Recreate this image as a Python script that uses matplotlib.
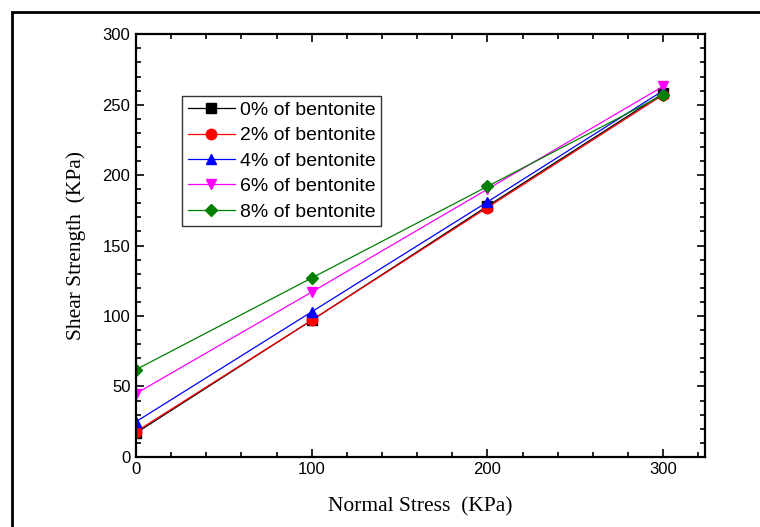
import matplotlib
matplotlib.use('Agg')
import matplotlib.pyplot as plt
from matplotlib.patches import Rectangle
from matplotlib.ticker import MultipleLocator

# Normal stress steps (KPa) and shear strength for each bentonite content
normal_stress = [0, 100, 200, 300]
shear_0 = [17, 97, 178, 258]
shear_2 = [18, 97, 177, 257]
shear_4 = [25, 103, 181, 260]
shear_6 = [45, 117, 190, 263]
shear_8 = [62, 127, 192, 257]

labels = ['0% of bentonite', '2% of bentonite', '4% of bentonite',
          '6% of bentonite', '8% of bentonite']
colors = ['black', 'red', 'blue', '#ff00ff', '#008000']
markers = ['s', 'o', '^', 'v', 'D']

fig = plt.figure(figsize=(7.6, 5.27), dpi=100)
ax = fig.add_axes([0.179, 0.133, 0.749, 0.802])

series = [shear_0, shear_2, shear_4, shear_6, shear_8]
for ys, lab, c, m in zip(series, labels, colors, markers):
    ms = 6.5 if m == 'D' else 7.5
    ax.plot(normal_stress, ys, color=c, marker=m, markersize=ms, lw=0.9,
            label=lab)

ax.set_xlim(0, 324)
ax.set_ylim(0, 300)
ax.xaxis.set_major_locator(MultipleLocator(100))
ax.xaxis.set_minor_locator(MultipleLocator(20))
ax.yaxis.set_major_locator(MultipleLocator(50))
ax.yaxis.set_minor_locator(MultipleLocator(10))
ax.tick_params(which='both', direction='in', top=True, right=True,
               width=1.2, labelsize=12)
ax.tick_params(which='major', length=6, pad=4)
ax.tick_params(which='minor', length=3.5)
for lab in ax.get_xticklabels() + ax.get_yticklabels():
    lab.set_family('Liberation Sans')
for sp in ax.spines.values():
    sp.set_linewidth(1.6)

ax.set_xlabel('Normal Stress  (KPa)', family='Liberation Serif', fontsize=15.5,
              labelpad=14)
ax.set_ylabel('Shear Strength  (KPa)', family='Liberation Serif', fontsize=15.5,
              labelpad=12)

leg = ax.legend(loc='upper left', bbox_to_anchor=(0.081, 0.855),
                prop={'family': 'Liberation Sans', 'size': 14},
                frameon=True, fancybox=False, handlelength=2.4,
                handletextpad=0.25, labelspacing=0.4, borderpad=0.3,
                borderaxespad=0)
leg.get_frame().set_edgecolor('black')
leg.get_frame().set_linewidth(1.0)

# outer border around the figure
fig.add_artist(Rectangle((12 / 760, -0.1), 1.2, 1 - 12 / 527 + 0.1,
                         transform=fig.transFigure, fill=False,
                         edgecolor='black', lw=2))

fig.savefig('out.png', dpi=100)
